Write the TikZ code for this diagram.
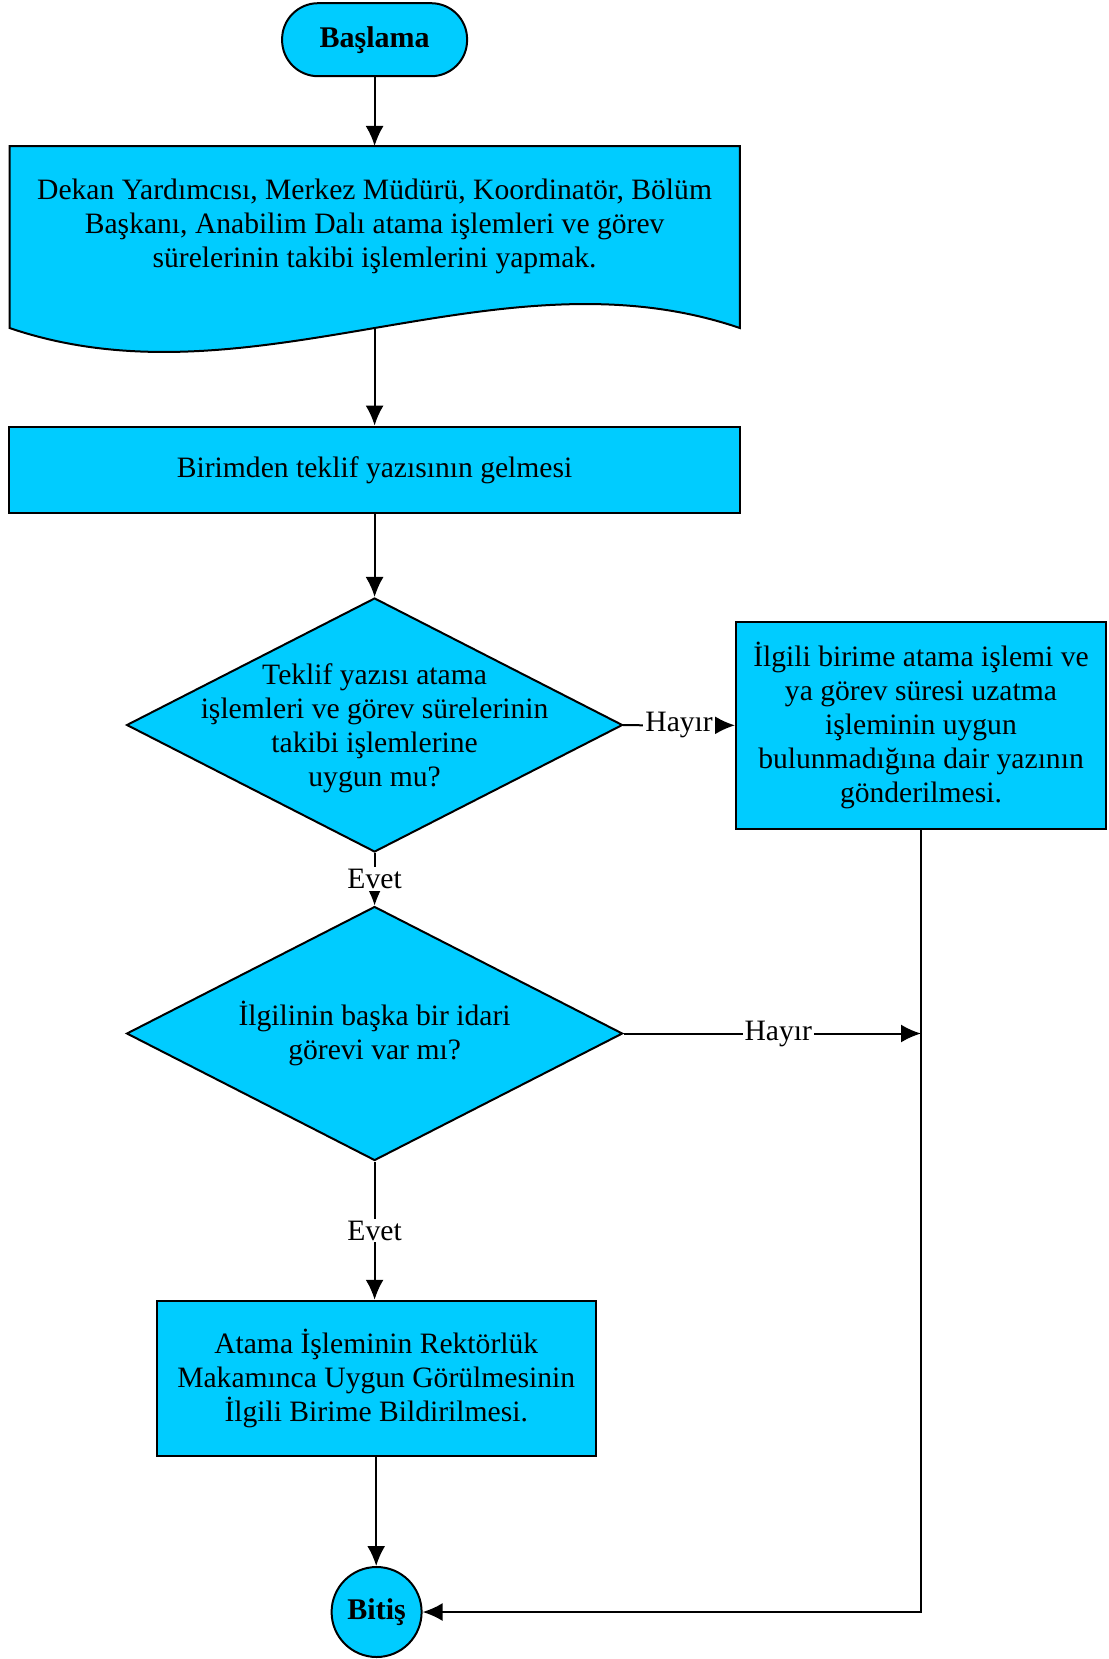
\documentclass[tikz,border=0pt]{standalone}
\usepackage{fontspec}
\setmainfont{Liberation Serif}
\usetikzlibrary{shapes.geometric,arrows.meta}
\definecolor{akis}{RGB}{0,204,255}

\begin{document}
\begin{tikzpicture}[
    x=0.5pt, y=-0.5pt,
    every node/.style = {font=\fontsize{14.8}{17}\selectfont},
    kutu/.style       = {draw, line width=1pt, fill=akis, align=center},
    uc/.style         = {kutu, font=\fontsize{15}{18}\selectfont\bfseries},
    karar/.style      = {draw, line width=1pt, fill=akis, diamond, inner sep=0pt,
                         minimum width=248pt, minimum height=127pt},
    ok/.style         = {line width=1pt, -{Latex[length=10pt,width=9pt]}},
    etiket/.style     = {fill=white, inner sep=1pt},
]
\useasboundingbox (0,0) rectangle (1108,1659);

% baslama
\node [uc, rounded corners=18pt, minimum width=92.5pt, minimum height=36.5pt] (a) at (374.6,39.7) {Başlama};

% belge
\coordinate (b1) at (374.6,146);
\coordinate (b2) at (374.6,328);
\draw [line width=1pt, fill=akis] (9.5,146) -- (739.8,146) -- (739.8,328)
    .. controls (496.4,245) and (252.9,411) .. (9.5,328) -- cycle;
\node [align=center] (b) at (374.6,226) {Dekan Yardımcısı, Merkez Müdürü, Koordinatör, Bölüm\\
    Başkanı, Anabilim Dalı atama işlemleri ve görev\\
    sürelerinin takibi işlemlerini yapmak.};

\node [kutu, minimum width=365.2pt, minimum height=43.4pt] (c) at (374.6,470) {Birimden teklif yazısının gelmesi};

% kararlar
\node [karar] (d) at (374.6,725) {};
\node [align=center, yshift=-1.5pt] (d1) at (d) {Teklif yazısı atama\\ işlemleri ve görev sürelerinin\\ takibi işlemlerine\\ uygun mu?};

\node [kutu, minimum width=185pt, minimum height=103.2pt] (e) at (921,725.5) {İlgili birime atama işlemi ve\\
    ya görev süresi uzatma\\ işleminin uygun\\ bulunmadığına dair yazının\\ gönderilmesi.};

\node [karar] (f) at (374.6,1033.5) {};
\node [align=center] (f1) at (f) {İlgilinin başka bir idari\\ görevi var mı?};

\node [kutu, minimum width=219.6pt, minimum height=77.75pt] (g) at (376.2,1378.5) {Atama İşleminin Rektörlük\\
    Makamınca Uygun Görülmesinin\\ İlgili Birime Bildirilmesi.};

% bitis
\node [uc, circle, minimum size=45pt, inner sep=0pt] (h) at (376.6,1612) {Bitiş};

\coordinate (i) at (e.south |- f.east);

% oklar
\draw [ok] (a) -- (b1);
\draw [ok] (b2) -- (c);
\draw [ok] (c) -- (d);
\draw [ok] (d) -- node [etiket] {Hayır} (e);
\draw [ok] (d) -- node [etiket] {Evet} (f);
\draw [ok] (f) -- node [etiket, pos=0.52] {Hayır} (i);
\draw [ok] (f.south) -- node [etiket] {Evet} (f.south |- g.north);
\draw [ok] (e) |- (h);
\draw [ok] (g.south) -- (g.south |- h.north);
\end{tikzpicture}
\end{document}
